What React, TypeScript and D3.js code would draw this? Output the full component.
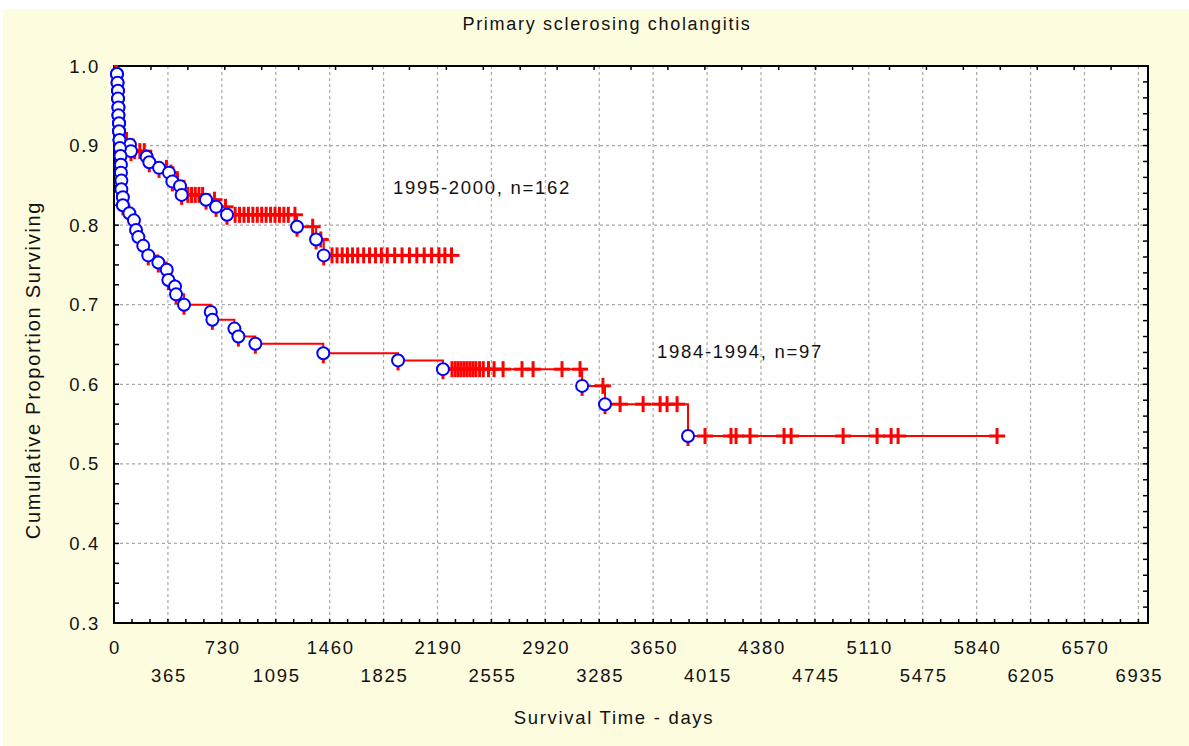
import { useEffect, useRef } from 'react'
import * as d3 from 'd3'

// 1995-2000 cohort (n=162)
const eventDays95 = [20, 24, 27, 27, 30, 30, 34, 34, 37, 108, 115, 221, 239, 305, 372, 395, 447, 458, 623, 691, 765, 1239, 1368, 1420]
const eventSurv95 = [0.990, 0.979, 0.969, 0.959, 0.948, 0.938, 0.928, 0.918, 0.907, 0.901, 0.893, 0.886, 0.879, 0.872, 0.866, 0.855, 0.849, 0.838, 0.832, 0.823, 0.813, 0.798, 0.782, 0.762]
const censorDays95 = [60, 85, 140, 175, 205, 355, 385, 430, 500, 525, 550, 575, 600, 680, 755,
  820, 850, 880, 910, 940, 970, 1000, 1030, 1060, 1090, 1120, 1150, 1180, 1225, 1345, 1400,
  1476, 1510, 1545, 1580, 1615, 1650, 1690, 1730, 1770, 1810, 1850, 1900, 1950, 2000, 2050, 2100, 2150, 2200, 2240, 2285]

// 1984-1994 cohort (n=97)
const eventDays84 = [20, 24, 27, 27, 30, 30, 34, 34, 37, 40, 44, 47, 47, 50, 50, 60, 60,
  104, 135, 149, 165, 198, 232, 300, 357, 368, 413, 420, 474, 655, 666, 815, 842, 957, 1417, 1923, 2227, 3169, 3324, 3886]
const eventSurv84 = [0.990, 0.979, 0.969, 0.959, 0.948, 0.938, 0.928, 0.918, 0.907, 0.897, 0.887, 0.876, 0.866, 0.856, 0.845, 0.835, 0.825,
  0.815, 0.806, 0.794, 0.785, 0.774, 0.762, 0.753, 0.744, 0.731, 0.723, 0.713, 0.700, 0.691, 0.681, 0.670, 0.660, 0.651, 0.639, 0.630, 0.619, 0.598, 0.575, 0.535]
const censorDays84 = [2288, 2310, 2330, 2350, 2370, 2390, 2410, 2430, 2450, 2475, 2500, 2535, 2573, 2634, 2762, 2837, 3033, 3155,
  3310, 3426, 3582, 3697, 3744, 3812, 4001, 4177, 4211, 4306, 4536, 4584, 4936, 5166, 5261, 5308, 5978]

const xTickDays = [0, 365, 730, 1095, 1460, 1825, 2190, 2555, 2920, 3285, 3650, 4015, 4380, 4745, 5110, 5475, 5840, 6205, 6570, 6935]
const yTicks = [0.3, 0.4, 0.5, 0.6, 0.7, 0.8, 0.9, 1.0]

const FONT = '"Liberation Sans", Arial, sans-serif'

export default function App() {
  const ref = useRef<SVGSVGElement>(null)

  useEffect(() => {
    const svg = d3.select(ref.current)
    svg.selectAll('*').remove()

    const left = 114, right = 1148, top = 66, bottom = 623
    const x = d3.scaleLinear().domain([0, 7000]).range([left, right])
    const y = d3.scaleLinear().domain([0.3, 1.0]).range([bottom, top])

    svg.append('rect').attr('width', 1189).attr('height', 746).attr('fill', '#ffffff')
    svg.append('rect').attr('x', 3).attr('y', 9).attr('width', 1186).attr('height', 737).attr('fill', '#fefcdf')
    svg.append('rect').attr('x', left).attr('y', top).attr('width', right - left).attr('height', bottom - top).attr('fill', '#ffffff')

    // grid
    const grid = svg.append('g').attr('stroke', '#a8a8a8').attr('stroke-width', 1.2).attr('stroke-dasharray', '3,3')
    grid.selectAll('.gx').data(xTickDays.slice(1)).join('line')
      .attr('x1', d => x(d)).attr('x2', d => x(d)).attr('y1', top).attr('y2', bottom)
    grid.selectAll('.gy').data(yTicks.slice(1, -1)).join('line')
      .attr('x1', left).attr('x2', right).attr('y1', d => y(d)).attr('y2', d => y(d))

    // ticks (inside)
    const tk = svg.append('g').attr('stroke', '#000').attr('stroke-width', 1.5)
    const minorX = d3.range(0, 7000, 365 / 3)
    tk.selectAll('.bx').data(minorX).join('line')
      .attr('x1', d => x(d)).attr('x2', d => x(d)).attr('y1', bottom).attr('y2', bottom - 4)
    const topX = d3.range(250, 7000, 250)
    tk.selectAll('.tx').data(topX).join('line')
      .attr('x1', d => x(d)).attr('x2', d => x(d)).attr('y1', top).attr('y2', top + 4)
    const minorY = d3.range(0.3, 1.0001, 0.025)
    tk.selectAll('.ly').data(minorY).join('line')
      .attr('x1', left).attr('x2', left + 5).attr('y1', d => y(d)).attr('y2', d => y(d))
    const rightY = d3.range(0.32, 1.0, 0.02)
    tk.selectAll('.ry').data(rightY).join('line')
      .attr('x1', right).attr('x2', right - 5).attr('y1', d => y(d)).attr('y2', d => y(d))

    svg.append('rect').attr('x', left).attr('y', top).attr('width', right - left).attr('height', bottom - top)
      .attr('fill', 'none').attr('stroke', '#000').attr('stroke-width', 2)

    const curves = [
      { days: eventDays95, surv: eventSurv95, cens: censorDays95 },
      { days: eventDays84, surv: eventSurv84, cens: censorDays84 },
    ]

    const line = d3.line<[number, number]>()
      .x(d => x(d[0])).y(d => y(d[1]))
      .curve(d3.curveStepAfter)

    curves.forEach(c => {
      const survAt = (t: number) => {
        const i = d3.bisectRight(c.days, t)
        return i === 0 ? 1 : c.surv[i - 1]
      }
      const lastT = Math.max(c.days[c.days.length - 1], c.cens[c.cens.length - 1])
      const pts: [number, number][] = [[0, 1], ...c.days.map((d, i) => [d, c.surv[i]] as [number, number]), [lastT, survAt(lastT)]]

      svg.append('path').attr('d', line(pts)).attr('fill', 'none')
        .attr('stroke', '#ff0000').attr('stroke-width', 2)

      const cg = svg.append('g').attr('stroke', '#ff0000').attr('stroke-width', 3)
      c.cens.forEach(t => {
        const cx = x(t), cy = y(survAt(t))
        cg.append('line').attr('x1', cx - 8).attr('x2', cx + 8).attr('y1', cy).attr('y2', cy)
        cg.append('line').attr('x1', cx).attr('x2', cx).attr('y1', cy - 8).attr('y2', cy + 8)
      })

      svg.append('g').selectAll('line').data(c.days).join('line')
        .attr('x1', d => x(d)).attr('x2', d => x(d))
        .attr('y1', (d, i) => y(c.surv[i]) + 5).attr('y2', (d, i) => y(c.surv[i]) + 10)
        .attr('stroke', '#ff0000').attr('stroke-width', 3)

      svg.append('g').selectAll('circle').data(c.days).join('circle')
        .attr('cx', d => x(d)).attr('cy', (d, i) => y(c.surv[i]))
        .attr('r', 6).attr('fill', '#ffffff').attr('stroke', '#0000ff').attr('stroke-width', 2)
    })

    // labels
    const txt = (tx: number, ty: number, s: string, size: number, anchor = 'middle') =>
      svg.append('text').attr('x', tx).attr('y', ty).attr('text-anchor', anchor)
        .attr('font-family', FONT).attr('font-size', size).attr('letter-spacing', 1.7)
        .attr('fill', '#111').text(s)

    txt(607, 30, 'Primary sclerosing cholangitis', 18)
    yTicks.forEach(v => txt(100, y(v) + 6.5, v.toFixed(1), 18.5, 'end'))
    xTickDays.forEach((d, i) => txt(x(d) + 1, i % 2 === 0 ? 654 : 682, String(d), 18.5))
    txt(614, 724, 'Survival Time - days', 18.5)
    txt(393, 194, '1995-2000, n=162', 18.5, 'start')
    txt(657, 358, '1984-1994, n=97', 18.5, 'start')

    svg.append('text')
      .attr('transform', 'translate(40,370) rotate(-90)')
      .attr('text-anchor', 'middle')
      .attr('font-family', FONT).attr('font-size', 20).attr('letter-spacing', 1.7)
      .attr('fill', '#111').text('Cumulative Proportion Surviving')
  }, [])

  return (
    <div style={{ position: 'fixed', left: 0, top: 0 }}>
      <svg ref={ref} width={1189} height={746} style={{ display: 'block' }} />
    </div>
  )
}
